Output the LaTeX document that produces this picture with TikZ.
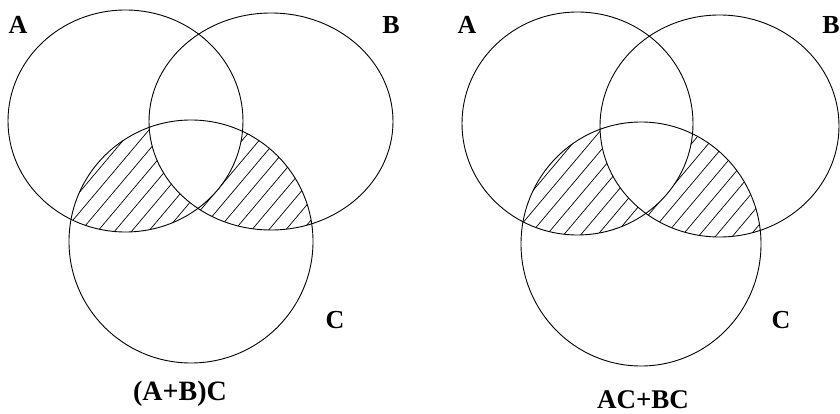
\documentclass[tikz,border=0pt]{standalone}
\usepackage{fontspec}
\setmainfont{Liberation Serif}
\begin{document}
\begin{tikzpicture}[x=1pt,y=-1pt,
  ring/.style={draw=black,line width=0.9pt},
  hatch/.style={draw=black,line width=0.7pt},
  lbl/.style={inner sep=0pt,font=\bfseries\fontsize{26}{30}\selectfont},
  formula/.style={inner sep=0pt,font=\bfseries\fontsize{27}{30}\selectfont}]
\useasboundingbox[fill=white] (0,0) rectangle (840,414);
% ---------- left diagram: (A+B)C ----------
\begin{scope}
  \clip (191,241.5) ellipse [x radius=122pt, y radius=121.5pt];
  \begin{scope}[even odd rule]
  \clip (125.5,121) ellipse [x radius=117.5pt, y radius=111pt]
        (271,121.5) ellipse [x radius=122pt, y radius=108.5pt];
  \foreach \k in {-20,...,20}
    \draw[hatch] ({191+\k*17-160},{241.5+190}) -- ({191+\k*17+160},{241.5-190});
  \end{scope}
\end{scope}
\draw[ring] (125.5,121) ellipse [x radius=117.5pt, y radius=111pt];
\draw[ring] (271,121.5) ellipse [x radius=122pt, y radius=108.5pt];
\draw[ring] (191,241.5) ellipse [x radius=122pt, y radius=121.5pt];
\node[lbl] (lA) at (18,25) {A};
\node[lbl] (lB) at (391,25) {B};
\node[lbl] (lC) at (335,320) {C};
\node[formula,font=\bfseries\fontsize{28}{30}\selectfont] (lT) at (180,394) {(A+B)C};
% ---------- right diagram: AC+BC ----------
\begin{scope}
  \clip (641,244) ellipse [x radius=120pt, y radius=122pt];
  \begin{scope}[even odd rule]
  \clip (577.5,123.5) ellipse [x radius=115.5pt, y radius=111.5pt]
        (719.5,126) ellipse [x radius=119.5pt, y radius=111pt];
  \foreach \k in {-20,...,20}
    \draw[hatch] ({641+\k*17-160},{244+190}) -- ({641+\k*17+160},{244-190});
  \end{scope}
\end{scope}
\draw[ring] (577.5,123.5) ellipse [x radius=115.5pt, y radius=111.5pt];
\draw[ring] (719.5,126) ellipse [x radius=119.5pt, y radius=111pt];
\draw[ring] (641,244) ellipse [x radius=120pt, y radius=122pt];
\node[lbl] (rA) at (467,25) {A};
\node[lbl] (rB) at (831,25) {B};
\node[lbl] (rC) at (781,320) {C};
\node[formula] (rT) at (643,400) {AC+BC};
\end{tikzpicture}
\end{document}
